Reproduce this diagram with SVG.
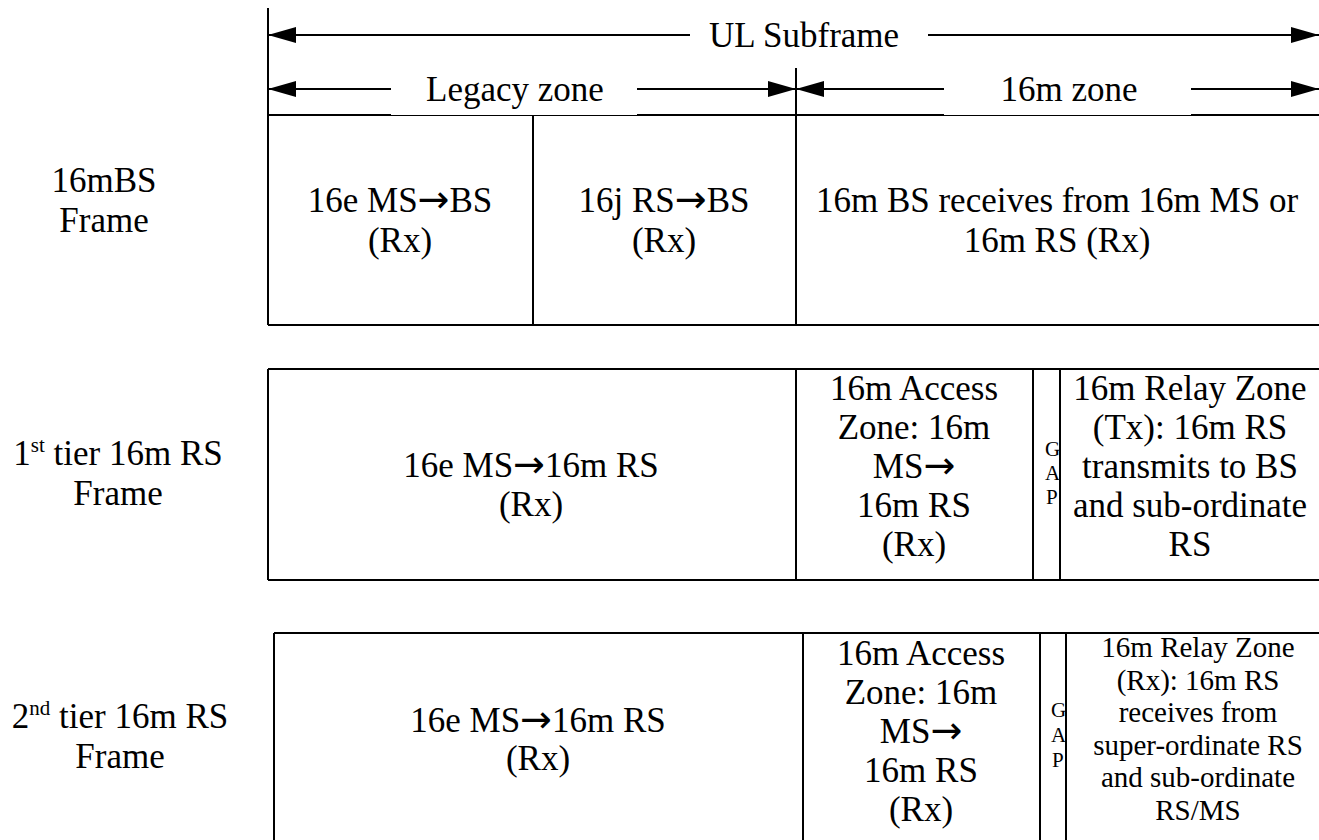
<svg xmlns="http://www.w3.org/2000/svg" width="1319" height="840" viewBox="0 0 1319 840" font-family="'Liberation Serif', 'DejaVu Serif', serif">
<style>
text{font-family:'Liberation Serif','DejaVu Serif',serif}
.t{font-size:35px;fill:#000;text-anchor:middle}
.s{font-size:29px}
.g{font-size:21px;text-anchor:start}
.ar{font-family:'DejaVu Sans',sans-serif;font-size:38px}
.ln{stroke:#000;stroke-width:2;fill:none}
.bg{fill:#fff}
</style>
<defs>
<marker id="ah" markerUnits="userSpaceOnUse" markerWidth="28" markerHeight="16" refX="28" refY="8" orient="auto-start-reverse"><path d="M0,0 L28,8 L0,16 z" fill="#000"/></marker>
</defs>
<rect width="1319" height="840" fill="#fff"/>

<g id="bs-frame">
<path class="ln" d="M268,8 V325 M796,68 V325 M268,115 H1319 M268,325 H1319 M533,115 V325"/>
<rect class="bg" x="391" y="66" width="246" height="49"/>
<rect class="bg" x="944" y="66" width="247" height="49"/>
<text class="t" x="400" y="212">16e MS<tspan class="ar">→</tspan>BS</text>
<text class="t" x="400" y="252">(Rx)</text>
<text class="t" x="664" y="212">16j RS<tspan class="ar">→</tspan>BS</text>
<text class="t" x="664" y="252">(Rx)</text>
<text class="t" x="1057" y="212">16m BS receives from 16m MS or</text>
<text class="t" x="1057" y="252">16m RS (Rx)</text>
</g>

<g id="connectors">
<line class="ln" x1="268" y1="35" x2="690" y2="35" marker-start="url(#ah)"/>
<line class="ln" x1="928" y1="35" x2="1319" y2="35" marker-end="url(#ah)"/>
<line class="ln" x1="268" y1="89" x2="391" y2="89" marker-start="url(#ah)"/>
<line class="ln" x1="637" y1="89" x2="796" y2="89" marker-end="url(#ah)"/>
<line class="ln" x1="796" y1="89" x2="944" y2="89" marker-start="url(#ah)"/>
<line class="ln" x1="1191" y1="89" x2="1319" y2="89" marker-end="url(#ah)"/>
</g>

<g id="dimension-labels">
<text class="t" x="804" y="47">UL Subframe</text>
<text class="t" x="515" y="101">Legacy zone</text>
<text class="t" x="1069" y="101">16m zone</text>
</g>

<g id="row-labels">
<text class="t" x="104" y="192">16mBS</text>
<text class="t" x="104" y="232">Frame</text>
<text class="t" x="118" y="465">1<tspan font-size="21" dy="-13">st</tspan><tspan dy="13"> tier 16m RS</tspan></text>
<text class="t" x="118" y="505">Frame</text>
<text class="t" x="120" y="728">2<tspan font-size="21" dy="-13">nd</tspan><tspan dy="13"> tier 16m RS</tspan></text>
<text class="t" x="120" y="768">Frame</text>
</g>

<g id="rs1-frame">
<path class="ln" d="M268,369 H1319 M268,580 H1319 M268,369 V580 M796,369 V580 M1033,369 V580 M1060,369 V580"/>
<text class="t" x="531" y="477">16e MS<tspan class="ar">→</tspan>16m RS</text>
<text class="t" x="531" y="516">(Rx)</text>
<text class="t" x="914" y="400">16m Access</text>
<text class="t" x="914" y="439">Zone: 16m</text>
<text class="t" x="914" y="478">MS<tspan class="ar">→</tspan></text>
<text class="t" x="914" y="517">16m RS</text>
<text class="t" x="914" y="556">(Rx)</text>
<text class="t g" x="1045" y="456">G</text>
<text class="t g" x="1045" y="480">A</text>
<text class="t g" x="1046" y="504">P</text>
<text class="t" x="1190" y="400">16m Relay Zone</text>
<text class="t" x="1190" y="439">(Tx): 16m RS</text>
<text class="t" x="1190" y="478">transmits to BS</text>
<text class="t" x="1190" y="517">and sub-ordinate</text>
<text class="t" x="1190" y="556">RS</text>
</g>

<g id="rs2-frame">
<path class="ln" d="M274,633 H1319 M274,633 V840 M803,633 V840 M1040,633 V840 M1066,633 V840"/>
<text class="t" x="538" y="732">16e MS<tspan class="ar">→</tspan>16m RS</text>
<text class="t" x="538" y="770">(Rx)</text>
<text class="t" x="921" y="665">16m Access</text>
<text class="t" x="921" y="704">Zone: 16m</text>
<text class="t" x="921" y="743">MS<tspan class="ar">→</tspan></text>
<text class="t" x="921" y="782">16m RS</text>
<text class="t" x="921" y="821">(Rx)</text>
<text class="t g" x="1051" y="717">G</text>
<text class="t g" x="1051" y="742">A</text>
<text class="t g" x="1052" y="767">P</text>
<text class="t s" x="1198" y="657">16m Relay Zone</text>
<text class="t s" x="1198" y="690">(Rx): 16m RS</text>
<text class="t s" x="1198" y="722">receives from</text>
<text class="t s" x="1198" y="755">super-ordinate RS</text>
<text class="t s" x="1198" y="787">and sub-ordinate</text>
<text class="t s" x="1198" y="820">RS/MS</text>
</g>
</svg>
